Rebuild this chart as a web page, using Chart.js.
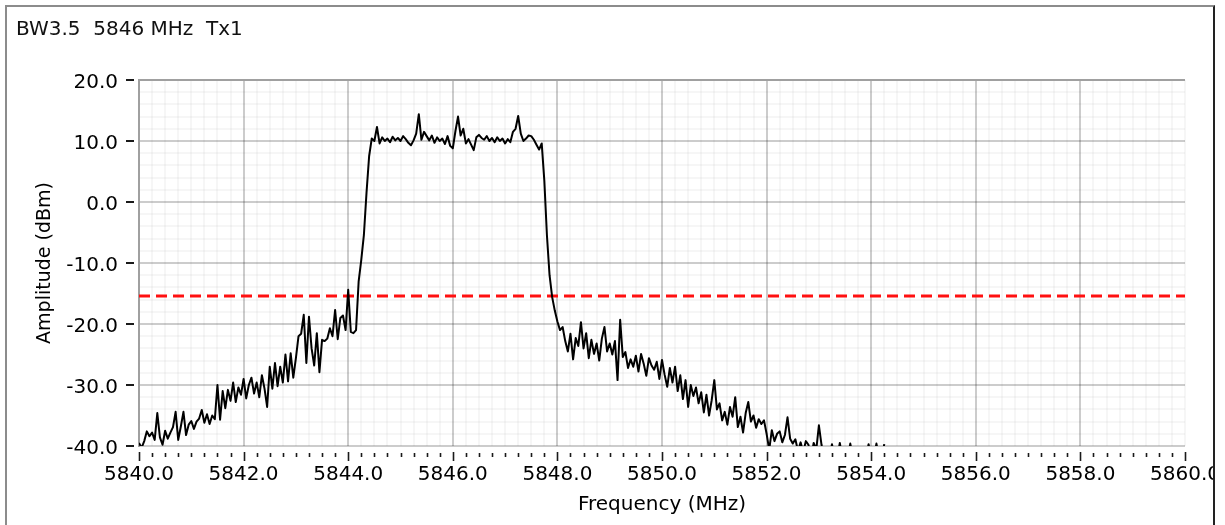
<!DOCTYPE html>
<html>
<head>
<meta charset="utf-8">
<script src="https://cdn.jsdelivr.net/npm/chart.js@4.4.1/dist/chart.umd.min.js"></script>
<style>
  html, body { margin: 0; padding: 0; background: #fff; }
  #wrap { position: relative; width: 1225px; height: 525px; overflow: hidden; background: #fff; }
  canvas { position: absolute; left: 0; top: 0; }
  #frame {
    position: absolute; left: 5px; top: 5px; width: 1206px; height: 600px;
    border-left: 2px solid #8c8c8c; border-top: 2px solid #8c8c8c; border-right: 2px solid #222;
    pointer-events: none;
  }
  #outside { position: absolute; left: 1215px; top: 0; width: 10px; height: 525px; background: #fff; }
  #title {
    position: absolute; left: 16px; top: 18px;
    font: 20px "DejaVu Sans"; line-height: 20px; color: #111; white-space: pre;
  }
</style>
</head>
<body>
<div id="wrap">
  <canvas id="c" width="1225" height="525"></canvas>
  <div id="outside"></div>
  <div id="frame"></div>
  <div id="title">BW3.5  5846 MHz  Tx1</div>
</div>
<script>
// Spectrum trace, one amplitude every 0.05 MHz starting at 5840 MHz (dBm)
const FREQ_START_MHZ = 5840;
const FREQ_STEP_MHZ = 0.05;

const lowerSkirtDbm = [
  -39.5, -40.3, -39.2, -37.6, -38.4, -37.8, -39.0, -34.6, -38.6, -39.8,
  -37.5, -38.8, -37.8, -36.9, -34.4, -39.0, -36.8, -34.4, -38.2, -36.5,
  -35.9, -37.2, -36.0, -35.5, -34.1, -36.2, -34.8, -36.4, -35.0, -35.6,
  -30.0, -35.7, -31.0, -33.8, -30.8, -32.6, -29.6, -32.8, -30.4, -31.6,
  -29.0, -32.2, -30.0, -28.8, -31.4, -29.6, -32.0, -28.4, -30.6, -33.6,
  -27.0, -30.6, -26.4, -30.2, -27.0, -29.6, -25.0, -29.4, -24.8, -28.8,
  -25.6, -22.0, -21.6, -18.5, -26.4, -18.8, -24.0, -26.8, -21.5, -27.9,
  -22.6, -22.8, -22.4, -20.7, -22.0, -17.7, -22.5, -19.0, -18.6, -21.0,
  -14.4, -21.3, -21.5, -21.0
];

const passbandDbm = [
  -13.0, -9.5, -5.4, 1.5, 7.5, 10.4,
  10.0, 12.3, 9.6, 10.6, 10.0, 10.4, 9.8, 10.7, 10.1, 10.5,
  10.0, 10.8, 10.3, 9.7, 9.3, 10.1, 11.2, 14.4, 10.2, 11.5,
  10.8, 10.1, 10.9, 9.7, 10.6, 10.0, 10.4, 9.5, 10.8, 9.2,
  8.8, 11.6, 14.0, 10.9, 12.0, 9.6, 10.3, 9.4, 8.5, 10.6,
  11.0, 10.5, 10.2, 10.8, 10.0, 10.5, 9.8, 10.6, 10.0, 10.4,
  9.6, 10.3, 9.8, 11.5, 12.0, 14.1, 11.2, 10.0, 10.4, 10.9,
  10.8, 10.2, 9.4, 8.6, 9.6, 3.5, -5.5, -12.0, -15.6, -17.8
];

const upperSkirtDbm = [
  -19.6, -21.0, -20.5, -22.8, -24.5, -21.6, -25.8, -22.3, -23.6, -19.7,
  -24.0, -21.5, -25.6, -22.6, -24.9, -23.2, -26.0, -22.4, -20.5, -24.5,
  -23.2, -25.0, -22.8, -29.2, -19.3, -25.4, -24.6, -27.2, -25.8, -27.0,
  -25.2, -27.8, -24.9, -26.5, -28.5, -25.6, -26.8, -27.5, -26.2, -29.0,
  -25.9, -28.3, -30.3, -27.2, -29.6, -27.0, -31.0, -28.4, -32.3, -29.2,
  -33.6, -30.0, -31.8, -30.4, -33.0, -31.2, -34.5, -31.6, -35.0, -32.5,
  -29.2, -34.0, -33.0, -35.8, -34.4, -36.5, -33.6, -35.2, -32.0, -36.9,
  -35.2, -37.8, -34.6, -32.8, -36.0, -35.0, -37.0, -35.6, -36.4, -35.8,
  -38.0, -40.6, -37.4, -39.2, -38.0, -37.6, -39.4, -38.2, -35.3, -38.8,
  -39.6, -38.9, -40.8, -39.4, -41.0, -39.2, -39.8, -42.0, -39.5, -40.6
];

const tailDbm = [
  -36.6, -39.8, -42.0, -42.0, -42.0, -39.7, -42.0, -42.0, -39.5, -42.0,
  -42.0, -42.0, -39.6, -42.0, -42.0, -42.0, -42.0, -42.0, -42.0, -39.7,
  -42.0, -42.0, -39.6, -42.0, -42.0, -39.7
];

// Spectral mask limit (dBm)
const LIMIT_DBM = -15.4;

// Axis ranges and tick spacing
const X_RANGE_MHZ = [5840, 5860];
const X_MAJOR_STEP = 2;
const X_MINOR_STEP = 0.25;
const Y_RANGE_DBM = [-40, 20];
const Y_MAJOR_STEP = 10;
const Y_MINOR_STEP = 2;

const traceDbm = [].concat(lowerSkirtDbm, passbandDbm, upperSkirtDbm, tailDbm);
const tracePoints = traceDbm.map((v, i) => ({ x: FREQ_START_MHZ + i * FREQ_STEP_MHZ, y: v }));
const limitPoints = [{ x: X_RANGE_MHZ[0], y: LIMIT_DBM }, { x: X_RANGE_MHZ[1], y: LIMIT_DBM }];

const isMultiple = (v, step) => Math.abs(v / step - Math.round(v / step)) < 1e-6;

const FONT = 'DejaVu Sans';
// translucent grid inks so crossings never punch holes in the major lines
const GRID_MAJOR = 'rgba(0,0,0,0.2)';
const GRID_MINOR = 'rgba(0,0,0,0.035)';
const AXIS_GRAY = '#a0a0a0';
const TICK_INK = '#1a1a1a';

// Short tick marks drawn just outside the plot, detached from the axis lines
const tickMarks = {
  id: 'tickMarks',
  afterDraw(chart) {
    const { ctx, chartArea, scales } = chart;
    ctx.save();
    ctx.strokeStyle = TICK_INK;
    ctx.lineCap = 'butt';
    ctx.lineWidth = 2;
    scales.y.ticks.forEach(t => {
      if (!isMultiple(t.value, Y_MAJOR_STEP)) return;
      const py = Math.round(scales.y.getPixelForValue(t.value));
      ctx.beginPath();
      ctx.moveTo(chartArea.left - 13, py);
      ctx.lineTo(chartArea.left - 5, py);
      ctx.stroke();
    });
    ctx.lineWidth = 1.6;
    scales.x.ticks.forEach(t => {
      const px = Math.round(scales.x.getPixelForValue(t.value)) + 0.5;
      const major = isMultiple(t.value, X_MAJOR_STEP);
      ctx.beginPath();
      ctx.moveTo(px, chartArea.bottom + (major ? 6 : 7));
      ctx.lineTo(px, chartArea.bottom + (major ? 15 : 11));
      ctx.stroke();
    });
    ctx.restore();
  }
};

new Chart(document.getElementById('c'), {
  type: 'line',
  data: {
    datasets: [
      {
        label: 'Tx1',
        data: tracePoints,
        borderColor: '#000',
        borderWidth: 2,
        borderJoinStyle: 'round',
        pointRadius: 0,
        tension: 0,
        fill: false,
        order: 1
      },
      {
        label: 'Limit',
        data: limitPoints,
        borderColor: '#ff1010',
        borderWidth: 3,
        borderDash: [11, 6],
        pointRadius: 0,
        fill: false,
        order: 2
      }
    ]
  },
  options: {
    responsive: false,
    animation: false,
    devicePixelRatio: 1,
    layout: { padding: { left: 0, right: 40, top: 80, bottom: 0 } },
    plugins: { legend: { display: false }, tooltip: { enabled: false }, title: { display: false } },
    scales: {
      x: {
        type: 'linear',
        min: X_RANGE_MHZ[0],
        max: X_RANGE_MHZ[1],
        afterFit: s => { s.height = 79; s.paddingLeft = 0; s.paddingRight = 0; },
        border: { display: false },
        grid: {
          drawTicks: false,
          color: c => (isMultiple(c.tick.value, X_MAJOR_STEP) && c.tick.value < X_RANGE_MHZ[1]) ? GRID_MAJOR : GRID_MINOR,
          lineWidth: 2
        },
        ticks: {
          stepSize: X_MINOR_STEP,
          autoSkip: false,
          maxRotation: 0,
          padding: 17,
          color: '#000',
          font: { family: FONT, size: 20 },
          callback: v => isMultiple(v, X_MAJOR_STEP) ? Number(v).toFixed(1) : ''
        },
        title: {
          display: true,
          text: 'Frequency (MHz)',
          color: '#000',
          font: { family: FONT, size: 20 },
          padding: { top: 0, bottom: 8.5 }
        }
      },
      y: {
        min: Y_RANGE_DBM[0],
        max: Y_RANGE_DBM[1],
        afterFit: s => { s.width = 139; s.paddingTop = 0; s.paddingBottom = 0; },
        border: { display: true, color: AXIS_GRAY, width: 2 },
        grid: {
          drawTicks: false,
          color: c => c.tick.value === Y_RANGE_DBM[1] ? AXIS_GRAY
            : (isMultiple(c.tick.value, Y_MAJOR_STEP) ? GRID_MAJOR : GRID_MINOR),
          lineWidth: 2
        },
        ticks: {
          stepSize: Y_MINOR_STEP,
          autoSkip: false,
          padding: 21,
          labelOffset: 3,
          color: '#000',
          font: { family: FONT, size: 20 },
          callback: v => isMultiple(v, Y_MAJOR_STEP) ? Number(v).toFixed(1) : ''
        },
        title: {
          display: true,
          text: 'Amplitude (dBm)',
          color: '#000',
          font: { family: FONT, size: 19 },
          padding: { top: 33.6, bottom: 0 }
        }
      }
    }
  },
  plugins: [tickMarks]
});
</script>
</body>
</html>
